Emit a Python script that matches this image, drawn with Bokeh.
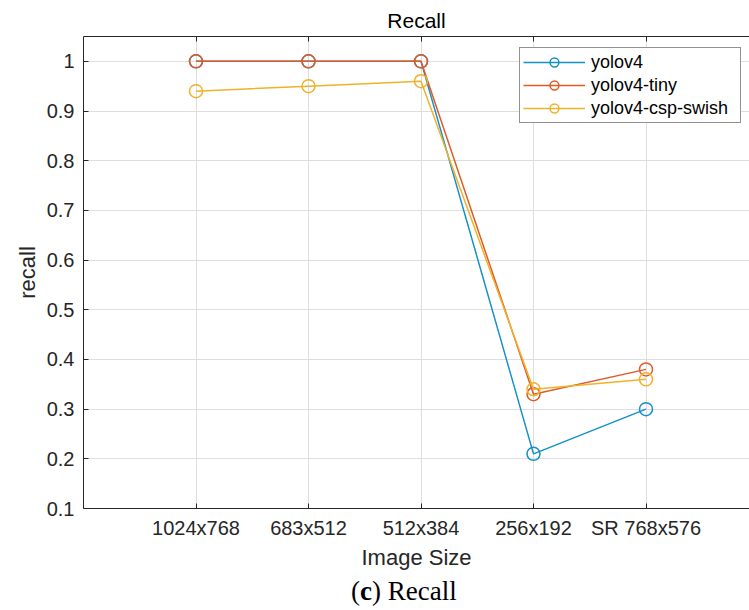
from bokeh.plotting import figure
from bokeh.models import FixedTicker, LinearAxis, Range1d, Legend, LegendItem, Div
from bokeh.layouts import column
from bokeh.embed import file_html
from bokeh.resources import INLINE

categories = ["1024x768", "683x512", "512x384", "256x192", "SR 768x576"]
yolov4 = [1.0, 1.0, 1.0, 0.21, 0.30]
yolov4_tiny = [1.0, 1.0, 1.0, 0.33, 0.38]
yolov4_csp_swish = [0.94, 0.95, 0.96, 0.34, 0.36]
series_names = ["yolov4", "yolov4-tiny", "yolov4-csp-swish"]
y_ticks = [0.1, 0.2, 0.3, 0.4, 0.5, 0.6, 0.7, 0.8, 0.9, 1.0]
y_tick_labels = ["0.1", "0.2", "0.3", "0.4", "0.5", "0.6", "0.7", "0.8", "0.9", "1"]
caption_label = "c"
caption_text = "Recall"

colors = ["#1590c8", "#e05a28", "#f0b22a"]
FONT = "Liberation Sans"
AX = "#262626"

x = list(range(1, len(categories) + 1))

p = figure(width=749, height=573, output_backend="svg", toolbar_location=None,
           x_range=Range1d(0, 5.92), y_range=Range1d(0.1, 1.05),
           min_border_left=83, min_border_right=0, min_border_top=36,
           min_border_bottom=65)
p.outline_line_color = None
p.background_fill_color = "white"
p.border_fill_color = "white"

p.title.text = "Recall"
p.title.align = "center"
p.title.text_font = FONT
p.title.text_font_size = "21px"
p.title.text_font_style = "normal"
p.title.text_color = "#000000"
p.title.offset = 4

xt = FixedTicker(ticks=x)
yt = FixedTicker(ticks=y_ticks)

xa = p.xaxis[0]
xa.ticker = xt
xa.major_label_overrides = {i: c for i, c in zip(x, categories)}
ya = p.yaxis[0]
ya.ticker = yt
ya.major_label_overrides = {v: s for v, s in zip(y_ticks, y_tick_labels)}

for ax in (xa, ya):
    ax.major_tick_in = 5
    ax.major_tick_out = 0
    ax.minor_tick_in = 0
    ax.minor_tick_out = 0
    ax.axis_line_color = AX
    ax.major_tick_line_color = AX
    ax.major_label_text_font = FONT
    ax.major_label_text_font_size = "20px"
    ax.major_label_text_color = AX
    ax.axis_label_text_font = FONT
    ax.axis_label_text_font_size = "22px"
    ax.axis_label_text_font_style = "normal"
    ax.axis_label_text_color = AX

xa.axis_label = "Image Size"
xa.major_label_standoff = 8
xa.axis_label_standoff = 3
ya.axis_label = "recall"
ya.major_label_standoff = 9
ya.axis_label_standoff = 4

top = LinearAxis(ticker=xt, major_label_text_color=None, major_label_standoff=0,
                 major_tick_in=5, major_tick_out=0, minor_tick_in=0, minor_tick_out=0,
                 axis_line_color=AX, major_tick_line_color=AX)
p.add_layout(top, "above")

p.xgrid.ticker = xt
p.ygrid.ticker = yt
for g in (p.xgrid, p.ygrid):
    g.grid_line_color = "#dedede"
    g.grid_line_width = 1

items = []
for name, vals, c in zip(series_names, [yolov4, yolov4_tiny, yolov4_csp_swish], colors):
    l = p.line(x, vals, line_color=c, line_width=1.5)
    s = p.scatter(x, vals, marker="circle", size=13, line_color=c, line_width=1.5,
                  fill_alpha=0)
    items.append(LegendItem(label=name, renderers=[l, s]))

legend = Legend(items=items, location=(436, 385))
legend.border_line_color = AX
legend.border_line_width = 1
legend.background_fill_color = "white"
legend.background_fill_alpha = 1
legend.padding = 3
legend.spacing = 1
legend.glyph_height = 22
legend.label_height = 22
legend.glyph_width = 62
legend.label_standoff = 6
legend.label_width = 146
legend.label_text_font = FONT
legend.label_text_font_size = "18px"
legend.label_text_color = "#000000"
legend.margin = 0
p.add_layout(legend, "center")

cap = Div(text="(<b>%s</b>) %s" % (caption_label, caption_text), width=749, height=37,
          styles={"font-family": "Liberation Serif", "font-size": "27px",
                  "color": "#000000", "padding-left": "351px", "line-height": "36px",
                  "margin": "0", "background-color": "white", "box-sizing": "border-box"})

layout = column(p, cap, spacing=0)
open("out.html", "w").write(file_html(layout, INLINE))
